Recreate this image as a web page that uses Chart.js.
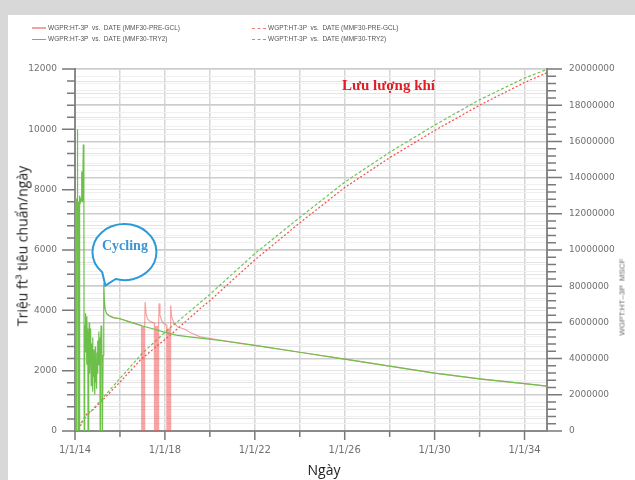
<!DOCTYPE html>
<html>
<head>
<meta charset="utf-8">
<script src="https://cdn.jsdelivr.net/npm/chart.js@4.4.0/dist/chart.umd.min.js"></script>
<style>
  body { margin: 0; width: 635px; height: 480px; position: relative; background: #fff; overflow: hidden; font-family: "Liberation Sans", Arial, sans-serif; }
  .frame-top { position: absolute; left: 0; top: 0; width: 635px; height: 15px; background: #d8d8d8; }
  .frame-left { position: absolute; left: 0; top: 0; width: 8px; height: 480px; background: #d8d8d8; }
  canvas { position: absolute; left: 0; top: 0; }
  .txt { position: absolute; white-space: nowrap; }
  .leg { position: absolute; font-size: 6.5px; color: #555; white-space: nowrap; line-height: 8px; }
  .leg i { display: inline-block; width: 14px; vertical-align: middle; margin-right: 2px; }
</style>
</head>
<body>
<div class="frame-top"></div>
<div class="frame-left"></div>
<canvas id="chart" width="635" height="480"></canvas>

<div class="leg" style="left:32px; top:24px"><i style="border-top:2px solid #f4a3a3"></i>WGPR:HT-3P &nbsp;vs. &nbsp;DATE (MMF30-PRE-GCL)</div>
<div class="leg" style="left:32px; top:35px"><i style="border-top:1.5px solid #6cc04a"></i>WGPR:HT-3P &nbsp;vs. &nbsp;DATE (MMF30-TRY2)</div>
<div class="leg" style="left:252px; top:24px"><i style="border-top:1.5px dashed #f08080"></i>WGPT:HT-3P &nbsp;vs. &nbsp;DATE (MMF30-PRE-GCL)</div>
<div class="leg" style="left:252px; top:35px"><i style="border-top:1.5px dashed #6cc04a"></i>WGPT:HT-3P &nbsp;vs. &nbsp;DATE (MMF30-TRY2)</div>

<div class="txt" style="left:342px; top:77px; font:bold 15px 'Liberation Serif', serif; color:#e31b23;">Lưu lượng khí</div>
<div class="txt" style="left:102px; top:238px; font:bold 14px 'Liberation Serif', serif; color:#3b95d6;">Cycling</div>
<div class="txt" style="left:22px; top:246px; transform:translate(-50%,-50%) rotate(-90deg); font:14px 'Open Sans', sans-serif; color:#222;">Triệu ft³ tiêu chuẩn/ngày</div>
<div class="txt" style="left:324px; top:462px; transform:translateX(-50%); font:14px 'Open Sans', sans-serif; color:#222; line-height:16px;">Ngày</div>
<div class="txt" style="left:622px; top:297px; transform:translate(-50%,-50%) rotate(-90deg); font:8px 'Liberation Sans', sans-serif; color:#666;">WGPT:HT&#8211;3P &nbsp;MSCF</div>

<script>
// rate, MMF30-TRY2 (green solid)  [year, value]
var tryRate = [
  [2014.00,0],[2014.005,7600],[2014.02,7500],[2014.025,0],[2014.035,7700],[2014.05,7600],[2014.055,0],
  [2014.065,7600],[2014.09,7700],[2014.10,10000],[2014.11,7600],[2014.13,7700],[2014.135,0],[2014.15,7600],
  [2014.17,7500],[2014.18,0],[2014.19,7700],[2014.22,7800],[2014.25,7600],[2014.28,7700],[2014.30,8600],
  [2014.32,7600],[2014.34,7700],[2014.37,9500],[2014.39,9000],[2014.40,7600],[2014.41,0],[2014.43,3500],
  [2014.45,2800],[2014.46,3900],[2014.48,2600],[2014.50,3700],[2014.52,2200],[2014.53,3800],[2014.55,2900],
  [2014.57,3400],[2014.58,0],[2014.60,3300],[2014.62,2100],[2014.63,3600],[2014.65,1900],[2014.67,3000],
  [2014.69,2300],[2014.70,3400],[2014.72,1500],[2014.74,2900],[2014.76,2000],[2014.78,3100],[2014.80,1300],
  [2014.82,2700],[2014.84,1800],[2014.86,2500],[2014.88,1200],[2014.90,2800],[2014.92,1600],[2014.94,2300],
  [2014.96,1400],[2014.98,2600],[2015.00,1900],[2015.02,3000],[2015.04,2200],[2015.06,3300],[2015.08,2500],
  [2015.10,3100],[2015.12,0],[2015.14,2800],[2015.16,3500],[2015.18,2600],[2015.20,3200],[2015.22,0],
  [2015.25,2500],[2015.27,3400],[2015.29,4900],[2015.31,4300],[2015.34,4050],[2015.40,3900],[2015.50,3830],
  [2015.70,3760],[2016.00,3720],[2016.50,3600],[2017.00,3480],[2017.50,3380],[2018.00,3270],[2018.50,3180],
  [2019.00,3130],[2019.57,3080],[2020.46,3000],[2022.00,2840],[2024.00,2610],[2026.00,2380],[2028.00,2150],
  [2030.00,1920],[2032.00,1730],[2034.00,1570],[2035.00,1490]
];

// rate, MMF30-PRE-GCL (red solid)
var preRate = [
  [2015.40,3900],[2015.50,3830],[2015.70,3760],[2016.00,3720],[2016.50,3600],[2016.96,3500],
  [2016.97,0],[2016.99,3480],[2017.01,0],[2017.03,3480],[2017.05,0],[2017.07,3480],[2017.09,0],[2017.11,3480],
  [2017.12,4280],[2017.16,3900],[2017.22,3720],[2017.32,3640],[2017.45,3600],[2017.53,3580],
  [2017.54,0],[2017.56,3480],[2017.58,0],[2017.60,3480],[2017.62,0],[2017.64,3480],[2017.66,0],[2017.68,3480],
  [2017.70,0],[2017.72,3480],[2017.74,4230],[2017.78,3850],[2017.86,3650],[2017.96,3560],[2018.08,3510],
  [2018.09,0],[2018.11,3400],[2018.13,0],[2018.15,3400],[2018.17,0],[2018.19,3400],[2018.21,0],[2018.23,3400],
  [2018.25,0],[2018.26,4170],[2018.30,3800],[2018.40,3570],[2018.60,3440],[2018.83,3390],[2019.20,3240],
  [2019.57,3120],[2020.46,3010],[2022.00,2840],[2024.00,2610],[2026.00,2380],[2028.00,2150],
  [2030.00,1920],[2032.00,1730],[2034.00,1570],[2035.00,1490]
];

// cumulative, MSCF (right axis)
var preCum = [
  [2014.00,0],[2014.15,50000],[2014.37,610000],[2014.52,940000],[2014.82,1200000],[2015.26,1750000],
  [2016.00,2700000],[2016.97,4000000],[2018.24,5300000],[2019.57,6760000],[2020.00,7200000],
  [2022.00,9450000],[2024.00,11500000],[2026.00,13450000],[2028.00,15100000],[2030.00,16600000],
  [2032.00,18000000],[2034.00,19250000],[2035.00,19800000]
];
var tryCum = [
  [2014.00,0],[2014.37,620000],[2014.82,1230000],[2015.26,1850000],[2016.00,2900000],[2017.00,4300000],
  [2018.00,5450000],[2020.00,7550000],[2022.00,9800000],[2024.00,11800000],[2026.00,13750000],
  [2028.00,15400000],[2030.00,16900000],[2032.00,18300000],[2034.00,19500000],[2035.00,19980000]
];

var xTickLabels = ['1/1/14','1/1/18','1/1/22','1/1/26','1/1/30','1/1/34'];

function pts(arr) { return arr.map(function (p) { return { x: p[0], y: p[1] }; }); }

var tickMarks = {
  id: 'tickMarks',
  afterDraw: function (chart) {
    var ctx = chart.ctx, a = chart.chartArea;
    ctx.save();
    ctx.strokeStyle = '#7a7a7a';
    ctx.lineWidth = 1.5;
    ctx.beginPath();
    chart.scales.y.ticks.forEach(function (t) {
      var p = chart.scales.y.getPixelForValue(t.value);
      var len = t.value % 2000 === 0 ? 13 : 8;
      ctx.moveTo(a.left - len, p); ctx.lineTo(a.left, p);
    });
    chart.scales.y1.ticks.forEach(function (t) {
      var p = chart.scales.y1.getPixelForValue(t.value);
      var len = t.value % 2000000 === 0 ? 15 : 9;
      ctx.moveTo(a.right, p); ctx.lineTo(a.right + len, p);
    });
    chart.scales.x.ticks.forEach(function (t) {
      if ((t.value - 2014) % 2 !== 0) return;
      var p = chart.scales.x.getPixelForValue(t.value);
      var len = (t.value - 2014) % 4 === 0 ? 9 : 6;
      ctx.moveTo(p, a.bottom); ctx.lineTo(p, a.bottom + len);
    });
    ctx.stroke();

    // "Cycling" callout bubble
    var sx = chart.scales.x, sy = chart.scales.y;
    var cx = sx.getPixelForValue(2016.2), cy = sy.getPixelForValue(5930);
    var tx = sx.getPixelForValue(2015.35), ty = sy.getPixelForValue(4820);
    var rx = 32, ry = 28;
    ctx.beginPath();
    ctx.ellipse(cx, cy, rx, ry, 0, 134 * Math.PI / 180, 466 * Math.PI / 180);
    ctx.lineTo(tx, ty);
    ctx.closePath();
    ctx.fillStyle = '#fff';
    ctx.fill();
    ctx.strokeStyle = '#2a9ad8';
    ctx.lineWidth = 2;
    ctx.stroke();
    ctx.restore();
  }
};

new Chart(document.getElementById('chart'), {
  type: 'line',
  data: {
    datasets: [
      { label: 'WGPR:HT-3P vs. DATE (MMF30-TRY2)', data: pts(tryRate), yAxisID: 'y',
        borderColor: '#6cc04a', borderWidth: 1.2, pointRadius: 0 },
      { label: 'WGPR:HT-3P vs. DATE (MMF30-PRE-GCL)', data: pts(preRate), yAxisID: 'y',
        borderColor: 'rgba(242,90,90,0.55)', borderWidth: 1.2, pointRadius: 0 },
      { label: 'WGPT:HT-3P vs. DATE (MMF30-TRY2)', data: pts(tryCum), yAxisID: 'y1',
        borderColor: '#72c250', borderWidth: 1.2, borderDash: [3, 2], pointRadius: 0 },
      { label: 'WGPT:HT-3P vs. DATE (MMF30-PRE-GCL)', data: pts(preCum), yAxisID: 'y1',
        borderColor: '#ef4f4f', borderWidth: 1.2, borderDash: [2, 2], pointRadius: 0 }
    ]
  },
  options: {
    responsive: false,
    animation: false,
    devicePixelRatio: 1,
    layout: { padding: { top: 69, left: 0, right: 0, bottom: 0 } },
    plugins: { legend: { display: false }, tooltip: { enabled: false } },
    scales: {
      x: {
        type: 'linear', min: 2014, max: 2035,
        border: { color: '#8a8a8a', width: 2 },
        grid: { color: '#d6d6d6', lineWidth: 1.5, drawTicks: false },
        ticks: {
          stepSize: 2, includeBounds: false, autoSkip: false, maxRotation: 0, padding: 13, color: '#707070',
          font: { family: 'DejaVu Sans', size: 10 },
          callback: function (v) {
            if ((v - 2014) % 4 !== 0) return '';
            return xTickLabels[(v - 2014) / 4];
          }
        },
        afterFit: function (s) { s.height = 49; }
      },
      y: {
        position: 'left', min: 0, max: 12000,
        border: { color: '#8a8a8a', width: 2 },
        grid: { color: '#e4e4e4', lineWidth: 1, drawTicks: false },
        ticks: {
          stepSize: 400, autoSkip: false, maxTicksLimit: 100, padding: 18, color: '#707070',
          font: { family: 'DejaVu Sans', size: 9 },
          callback: function (v) { return v % 2000 === 0 ? String(v) : ''; }
        },
        afterFit: function (s) { s.width = 75; }
      },
      y1: {
        position: 'right', min: 0, max: 20000000,
        border: { color: '#8a8a8a', width: 2 },
        grid: {
          drawTicks: false,
          lineWidth: function (c) { return c.tick && c.tick.value % 2000000 === 0 ? 1.5 : 1; },
          color: function (c) { return c.tick && c.tick.value % 2000000 === 0 ? '#cdcdcd' : '#f0f0f0'; }
        },
        ticks: {
          stepSize: 400000, autoSkip: false, maxTicksLimit: 100, padding: 22, color: '#707070',
          font: { family: 'DejaVu Sans', size: 9 },
          callback: function (v) { return v % 2000000 === 0 ? String(v) : ''; }
        },
        afterFit: function (s) { s.width = 88; }
      }
    }
  },
  plugins: [tickMarks]
});
</script>
</body>
</html>
